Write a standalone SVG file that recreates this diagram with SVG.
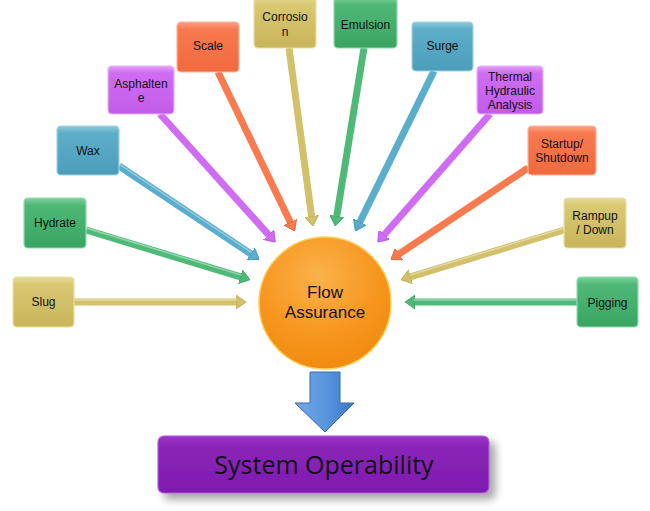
<svg xmlns="http://www.w3.org/2000/svg" width="650" height="511" viewBox="0 0 650 511">
<defs>
<linearGradient id="gY" x1="0" y1="0" x2="0" y2="1"><stop offset="0" stop-color="#e6da97"/><stop offset="0.15" stop-color="#d8c872"/><stop offset="1" stop-color="#c9b55a"/></linearGradient>
<linearGradient id="gG" x1="0" y1="0" x2="0" y2="1"><stop offset="0" stop-color="#7fd39c"/><stop offset="0.15" stop-color="#4fb877"/><stop offset="1" stop-color="#3aa563"/></linearGradient>
<linearGradient id="gB" x1="0" y1="0" x2="0" y2="1"><stop offset="0" stop-color="#8cc8dc"/><stop offset="0.15" stop-color="#5eaec9"/><stop offset="1" stop-color="#4b9dba"/></linearGradient>
<linearGradient id="gP" x1="0" y1="0" x2="0" y2="1"><stop offset="0" stop-color="#e3a0f7"/><stop offset="0.15" stop-color="#cf6df2"/><stop offset="1" stop-color="#c15ce9"/></linearGradient>
<linearGradient id="gO" x1="0" y1="0" x2="0" y2="1"><stop offset="0" stop-color="#fba182"/><stop offset="0.15" stop-color="#f8794f"/><stop offset="1" stop-color="#f06a3e"/></linearGradient>
<radialGradient id="gC" cx="0.45" cy="0.3" r="0.75"><stop offset="0" stop-color="#fbb24a"/><stop offset="0.6" stop-color="#f7961f"/><stop offset="1" stop-color="#ee8a0c"/></radialGradient>
<linearGradient id="gArr" x1="0" y1="0" x2="1" y2="0"><stop offset="0" stop-color="#6fa9e6"/><stop offset="0.5" stop-color="#5b97de"/><stop offset="1" stop-color="#3b75c4"/></linearGradient>
<linearGradient id="gSys" x1="0" y1="0" x2="0" y2="1"><stop offset="0" stop-color="#9a36c6"/><stop offset="0.2" stop-color="#8a24b9"/><stop offset="1" stop-color="#7f1bb0"/></linearGradient>
<filter id="sh" x="-10%" y="-20%" width="130%" height="160%"><feDropShadow dx="6" dy="6" stdDeviation="4" flood-color="#000" flood-opacity="0.35"/></filter>
<marker id="mY" viewBox="0 0 10 14" refX="1" refY="7" markerWidth="10" markerHeight="14" markerUnits="userSpaceOnUse" orient="auto"><path d="M0,0 L10,7 L0,14 z" fill="#d2c06a" stroke="#b7a54a" stroke-width="0.8"/></marker>
<marker id="mG" viewBox="0 0 10 14" refX="1" refY="7" markerWidth="10" markerHeight="14" markerUnits="userSpaceOnUse" orient="auto"><path d="M0,0 L10,7 L0,14 z" fill="#4fba78" stroke="#3a9d5e" stroke-width="0.8"/></marker>
<marker id="mB" viewBox="0 0 10 14" refX="1" refY="7" markerWidth="10" markerHeight="14" markerUnits="userSpaceOnUse" orient="auto"><path d="M0,0 L10,7 L0,14 z" fill="#5aaecb" stroke="#3f8fab" stroke-width="0.8"/></marker>
<marker id="mP" viewBox="0 0 10 14" refX="1" refY="7" markerWidth="10" markerHeight="14" markerUnits="userSpaceOnUse" orient="auto"><path d="M0,0 L10,7 L0,14 z" fill="#cf6cf2" stroke="#b152d8" stroke-width="0.8"/></marker>
<marker id="mO" viewBox="0 0 10 14" refX="1" refY="7" markerWidth="10" markerHeight="14" markerUnits="userSpaceOnUse" orient="auto"><path d="M0,0 L10,7 L0,14 z" fill="#f87a4e" stroke="#dc5f33" stroke-width="0.8"/></marker>
<style>
.box{stroke-width:1.2}
.y{fill:url(#gY);stroke:#e9dfa6}
.g{fill:url(#gG);stroke:#8fdcae}
.b{fill:url(#gB);stroke:#9fd3e4}
.p{fill:url(#gP);stroke:#e8b0fa}
.o{fill:url(#gO);stroke:#fcb39a}
.t{font-family:"Liberation Sans",Arial,sans-serif;font-size:12px;fill:#111;text-anchor:middle}
.c{fill:none;stroke-width:7;stroke-linecap:butt}
.cy{stroke:#d2c06a;marker-end:url(#mY)}
.cg{stroke:#4fba78;marker-end:url(#mG)}
.cb{stroke:#5aaecb;marker-end:url(#mB)}
.cp{stroke:#cf6cf2;marker-end:url(#mP)}
.co{stroke:#f87a4e;marker-end:url(#mO)}
.hl{fill:none;stroke:#fff;stroke-opacity:0.4;stroke-width:1.5}
</style>
</defs>
<rect width="650" height="511" fill="#fff"/>
<g id="connectors">
<line class="c cy" x1="74" y1="302" x2="237" y2="302"/>
<line class="c cg" x1="86" y1="230" x2="241.4" y2="277.1"/>
<line class="c cb" x1="119" y1="166" x2="251.7" y2="254.5"/>
<line class="c cp" x1="160" y1="114" x2="269.3" y2="235.6"/>
<line class="c co" x1="218" y1="72" x2="290.7" y2="223"/>
<line class="c cy" x1="289" y1="48" x2="311.7" y2="217.1"/>
<line class="c cg" x1="364" y1="48" x2="336.6" y2="217.1"/>
<line class="c cb" x1="434" y1="71" x2="359.4" y2="223"/>
<line class="c cp" x1="490" y1="114" x2="383.6" y2="235.5"/>
<line class="c co" x1="528" y1="168" x2="398.3" y2="254.5"/>
<line class="c cy" x1="564" y1="230" x2="409.6" y2="277.1"/>
<line class="c cg" x1="577" y1="302" x2="414" y2="302"/>
<g class="hl">
<line x1="74" y1="300" x2="237" y2="300"/>
<line x1="86" y1="228" x2="241.4" y2="275.1"/>
<line x1="119" y1="164" x2="251.7" y2="252.5"/>
<line x1="577" y1="300" x2="414" y2="300"/>
<line x1="564" y1="228" x2="409.6" y2="275.1"/>
</g>
</g>
<g id="slug"><rect class="box y" x="13" y="277" width="61" height="50" rx="4"/><text class="t" x="43.5" y="306">Slug</text></g>
<g id="hydrate"><rect class="box g" x="24" y="198" width="62" height="50" rx="4"/><text class="t" x="55" y="227">Hydrate</text></g>
<g id="wax"><rect class="box b" x="57" y="126" width="62" height="49" rx="4"/><text class="t" x="88" y="155">Wax</text></g>
<g id="asphaltene"><rect class="box p" x="108" y="66" width="66" height="48" rx="4"/><text class="t" x="141" y="88">Asphalten</text><text class="t" x="141" y="102">e</text></g>
<g id="scale"><rect class="box o" x="177" y="22" width="62" height="50" rx="4"/><text class="t" x="208" y="50">Scale</text></g>
<g id="corrosion"><rect class="box y" x="254" y="-3" width="62" height="51" rx="4"/><text class="t" x="285" y="21">Corrosio</text><text class="t" x="285" y="36">n</text></g>
<g id="emulsion"><rect class="box g" x="334" y="-3" width="63" height="51" rx="4"/><text class="t" x="365.5" y="29">Emulsion</text></g>
<g id="surge"><rect class="box b" x="412" y="22" width="61" height="49" rx="4"/><text class="t" x="442.5" y="50">Surge</text></g>
<g id="thermal"><rect class="box p" x="477" y="66" width="66" height="48" rx="4"/><text class="t" x="510" y="81">Thermal</text><text class="t" x="510" y="95">Hydraulic</text><text class="t" x="510" y="109">Analysis</text></g>
<g id="startup"><rect class="box o" x="528" y="126" width="68" height="49" rx="4"/><text class="t" x="562" y="148">Startup/</text><text class="t" x="562" y="162">Shutdown</text></g>
<g id="rampup"><rect class="box y" x="564" y="198" width="62" height="50" rx="4"/><text class="t" x="595" y="220">Rampup</text><text class="t" x="595" y="234">/ Down</text></g>
<g id="pigging"><rect class="box g" x="577" y="277" width="61" height="50" rx="4"/><text class="t" x="607.5" y="307">Pigging</text></g>
<g id="flow-assurance">
<circle cx="325" cy="303" r="66" fill="url(#gC)" stroke="#fbd05a" stroke-width="1.5"/>
<text class="t" x="325" y="298" style="font-size:17px">Flow</text>
<text class="t" x="325" y="318" style="font-size:17px">Assurance</text>
</g>
<g id="down-arrow">
<polygon points="310,372 340,372 340,403 354,403 325,432 295,403 310,403" fill="url(#gArr)" stroke="#3a6aa8" stroke-width="1"/>
</g>
<g id="system-operability">
<rect x="158" y="436" width="331" height="57" rx="6" fill="url(#gSys)" stroke="#b25ad8" stroke-width="1.2" filter="url(#sh)"/>
<text x="324" y="474" style="font-family:'Open Sans','Liberation Sans',sans-serif;font-size:25px;fill:#111;text-anchor:middle">System Operability</text>
</g>
</svg>
